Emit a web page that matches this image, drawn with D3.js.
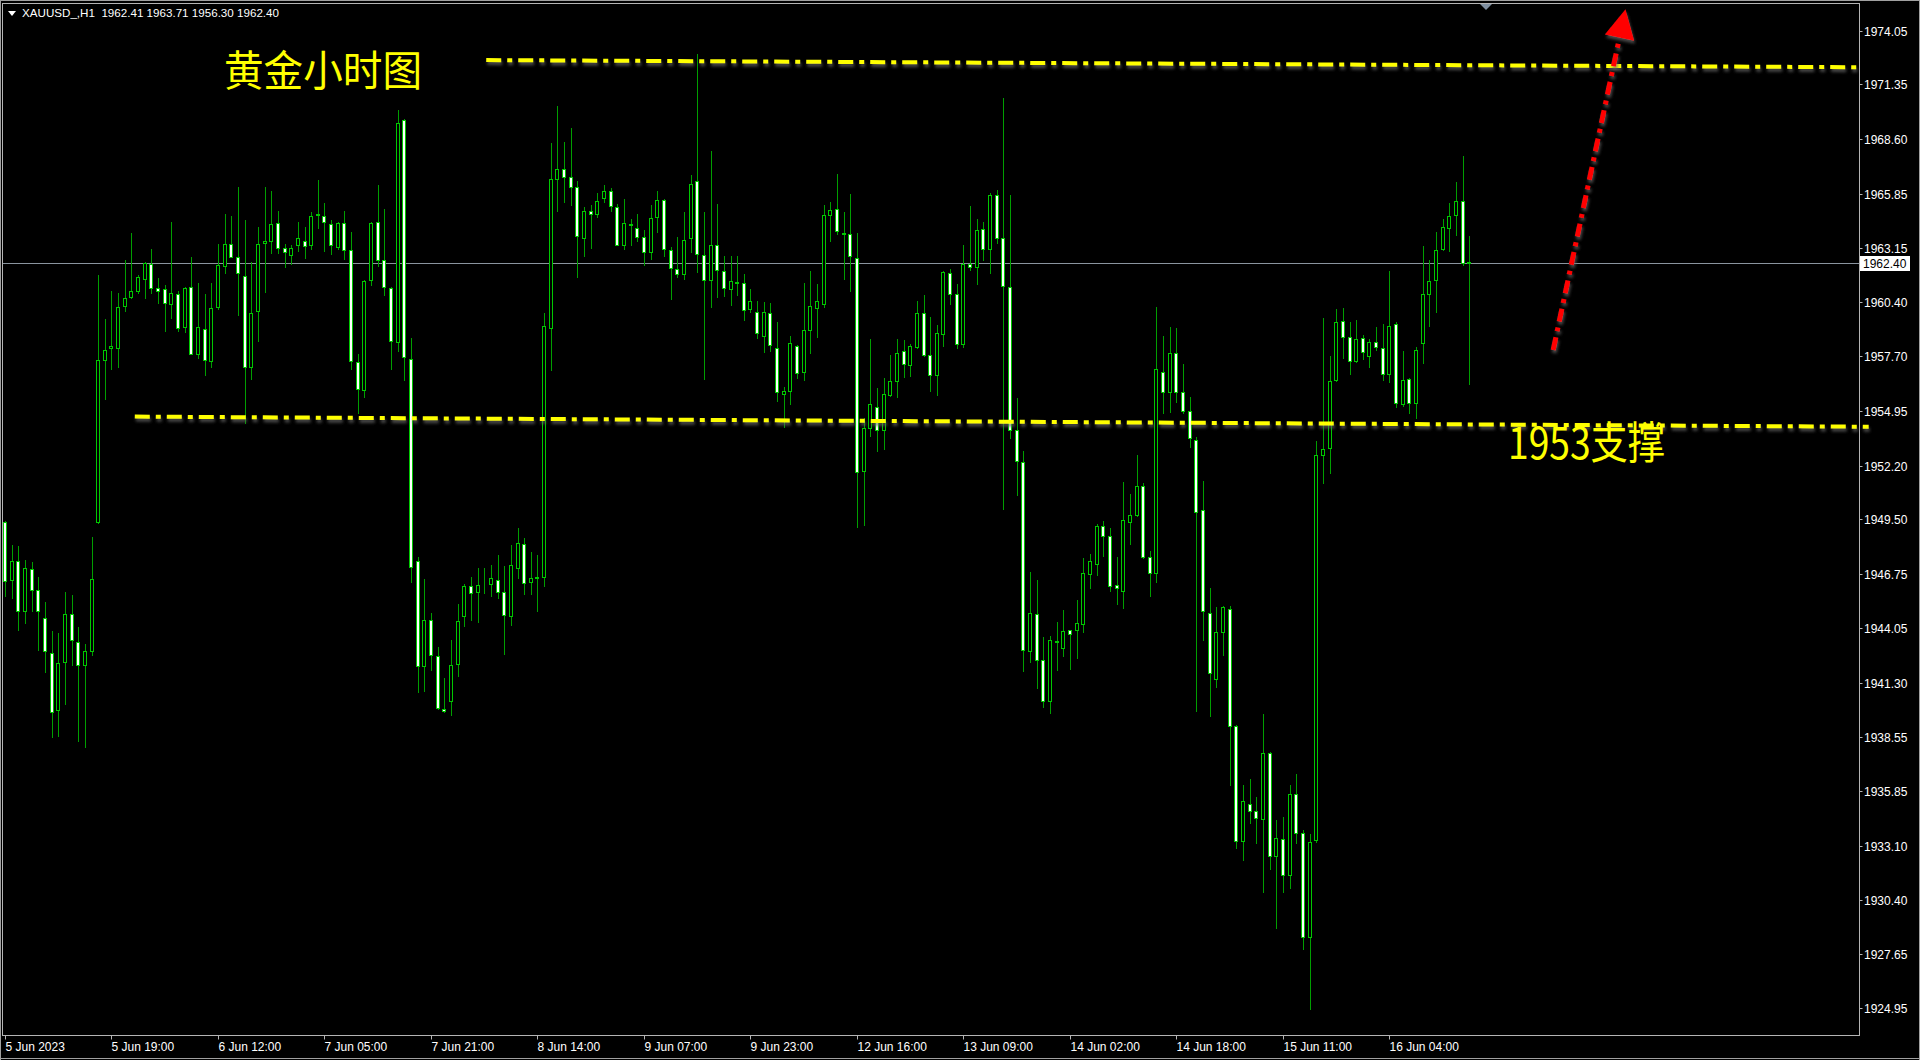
<!DOCTYPE html>
<html><head><meta charset="utf-8">
<script src="https://cdn.jsdelivr.net/npm/d3@7"></script>
<style>html,body{margin:0;padding:0;background:#000;overflow:hidden}svg{display:block}</style>
</head><body>
<svg id="chart" width="1920" height="1060"></svg>
<script>
const open = [1949.37,1946.46,1947.43,1944.87,1946.98,1945.95,1944.56,1942.76,1939.94,1942.34,1944.73,1943.36,1942.19,1942.89,1949.37,1957.49,1958.10,1958.12,1960.23,1960.65,1960.97,1961.56,1962.34,1961.14,1961.08,1960.30,1960.82,1959.18,1961.18,1957.81,1959.07,1957.45,1960.19,1962.24,1963.35,1962.66,1961.71,1957.13,1959.96,1963.40,1963.50,1964.39,1963.12,1962.76,1963.29,1963.50,1963.29,1964.78,1964.73,1964.35,1963.19,1964.39,1963.04,1957.38,1956.01,1961.50,1964.45,1962.55,1961.14,1958.40,1969.54,1957.55,1947.41,1942.14,1944.42,1942.62,1939.99,1940.35,1942.24,1944.63,1946.15,1945.83,1946.20,1946.25,1946.46,1945.87,1944.63,1947.03,1948.26,1946.36,1946.61,1946.61,1959.12,1966.57,1967.10,1966.72,1966.19,1963.62,1964.97,1964.86,1965.66,1965.98,1965.18,1963.28,1964.28,1964.14,1963.66,1962.92,1964.67,1965.52,1963.03,1962.08,1961.82,1963.62,1966.51,1962.77,1961.51,1963.28,1961.97,1961.09,1961.38,1961.38,1960.07,1959.92,1958.70,1959.86,1958.13,1955.81,1955.96,1958.22,1956.91,1959.02,1960.12,1960.34,1964.77,1965.10,1963.85,1963.81,1962.65,1951.95,1954.07,1955.13,1953.98,1955.75,1956.46,1957.93,1957.25,1958.16,1959.86,1957.73,1956.77,1958.83,1961.88,1960.80,1958.31,1962.34,1962.15,1964.10,1963.08,1965.77,1963.62,1961.19,1953.98,1952.38,1942.89,1944.72,1942.41,1940.38,1943.35,1943.02,1943.93,1943.93,1944.23,1946.76,1947.26,1949.16,1948.66,1946.20,1945.88,1949.36,1949.70,1951.16,1947.63,1946.81,1956.88,1955.89,1957.83,1955.87,1954.95,1953.49,1949.95,1944.80,1941.48,1943.86,1945.00,1939.12,1933.34,1935.19,1934.83,1934.43,1937.77,1932.57,1933.42,1931.63,1935.70,1933.72,1928.51,1933.38,1952.75,1953.09,1956.50,1959.46,1958.66,1957.47,1958.61,1957.71,1958.41,1958.12,1956.79,1959.29,1955.28,1956.54,1955.33,1958.37,1960.84,1961.52,1963.10,1964.15,1964.80,1965.48,1962.41];
const high = [1949.40,1948.21,1948.17,1947.47,1947.36,1946.58,1945.36,1943.88,1943.78,1945.84,1945.72,1944.09,1943.25,1948.63,1961.75,1959.54,1960.97,1960.86,1962.55,1963.86,1961.75,1962.45,1963.08,1961.60,1961.29,1964.41,1960.97,1961.18,1962.66,1961.35,1960.80,1961.35,1963.35,1964.83,1964.73,1966.18,1964.56,1962.45,1964.20,1966.20,1965.97,1964.98,1963.35,1963.29,1964.41,1964.20,1964.92,1966.56,1965.40,1964.52,1964.41,1964.98,1963.92,1957.81,1961.54,1964.45,1966.29,1965.08,1961.18,1970.04,1969.60,1958.62,1947.62,1946.51,1944.78,1943.09,1941.55,1943.45,1945.26,1946.25,1946.61,1947.03,1947.03,1947.20,1947.73,1947.14,1948.19,1949.06,1948.57,1947.84,1947.73,1959.86,1968.41,1970.24,1968.47,1969.14,1966.51,1965.18,1965.30,1965.87,1966.30,1966.13,1965.35,1965.60,1964.61,1964.82,1964.04,1965.30,1965.98,1965.60,1963.19,1963.70,1964.92,1966.82,1972.88,1964.92,1967.98,1965.35,1962.71,1962.71,1962.71,1961.80,1961.06,1960.49,1960.43,1960.39,1959.40,1956.17,1958.70,1958.28,1961.38,1961.97,1961.30,1965.29,1965.43,1966.83,1964.95,1965.83,1963.88,1954.59,1958.55,1956.08,1956.58,1957.77,1958.58,1958.49,1958.29,1960.47,1960.76,1959.66,1959.28,1961.96,1962.07,1961.34,1963.27,1965.25,1964.58,1964.43,1965.87,1966.06,1970.67,1965.77,1955.60,1952.95,1946.84,1946.46,1943.59,1943.62,1944.33,1944.96,1943.95,1945.46,1947.55,1947.77,1949.25,1949.40,1949.06,1947.63,1951.38,1950.79,1952.73,1951.30,1947.93,1960.18,1958.73,1959.17,1959.09,1957.32,1955.64,1953.62,1951.40,1946.05,1945.08,1945.14,1945.14,1939.18,1936.14,1936.46,1935.53,1939.72,1937.80,1934.39,1934.53,1936.14,1936.70,1933.88,1933.68,1953.42,1959.63,1957.69,1960.07,1960.12,1959.39,1959.53,1958.78,1958.54,1959.17,1959.29,1961.96,1959.39,1957.93,1956.59,1958.17,1963.22,1962.54,1963.91,1964.61,1965.41,1966.43,1967.77,1963.71];
const low = [1945.67,1945.57,1943.95,1944.30,1944.87,1942.93,1941.84,1938.54,1938.61,1940.23,1942.19,1938.35,1938.08,1942.68,1949.30,1955.53,1957.07,1957.17,1959.98,1960.60,1960.86,1960.61,1960.86,1960.38,1958.97,1959.60,1958.97,1958.92,1957.78,1957.60,1956.75,1957.17,1960.06,1961.88,1962.66,1959.77,1954.32,1956.54,1958.48,1960.93,1962.87,1962.87,1962.17,1962.34,1962.97,1962.62,1963.08,1964.14,1962.97,1962.83,1963.08,1962.60,1957.07,1954.85,1955.63,1961.29,1962.24,1960.76,1957.07,1957.95,1956.48,1946.35,1940.80,1940.87,1941.93,1939.98,1939.80,1939.65,1941.61,1944.14,1944.42,1944.36,1945.79,1945.66,1945.56,1942.73,1944.21,1946.57,1945.73,1945.73,1944.88,1946.15,1957.01,1964.99,1965.45,1965.30,1961.65,1962.71,1963.13,1964.71,1965.45,1964.99,1963.28,1963.09,1963.28,1963.49,1962.29,1962.56,1963.93,1962.71,1960.56,1961.65,1961.59,1962.92,1961.93,1956.53,1960.18,1960.66,1960.71,1960.28,1960.77,1959.50,1959.92,1958.60,1957.90,1957.96,1955.43,1954.16,1955.28,1956.59,1956.49,1957.86,1958.66,1960.15,1963.46,1963.85,1961.59,1960.96,1949.10,1949.19,1953.67,1952.92,1953.05,1955.70,1955.62,1956.66,1956.68,1958.12,1957.68,1955.94,1955.75,1958.22,1960.32,1958.10,1958.16,1962.02,1961.34,1962.54,1961.88,1963.40,1950.00,1953.59,1950.74,1941.87,1942.31,1941.04,1940.09,1939.76,1941.93,1942.64,1942.00,1942.55,1943.86,1946.05,1946.72,1947.68,1945.92,1945.24,1945.04,1948.27,1949.65,1947.55,1945.63,1946.34,1954.83,1954.88,1955.39,1954.83,1953.15,1939.86,1943.45,1939.60,1941.10,1942.70,1936.16,1932.98,1932.37,1934.25,1933.24,1930.76,1931.93,1928.99,1930.76,1931.00,1933.24,1927.90,1924.92,1933.30,1951.32,1951.85,1956.45,1957.59,1956.79,1957.39,1957.56,1957.15,1958.00,1956.50,1956.42,1955.16,1955.21,1954.84,1954.60,1957.35,1959.22,1959.90,1963.05,1962.98,1963.78,1962.25,1956.30];
const close = [1946.41,1947.43,1944.90,1947.05,1945.95,1944.87,1942.87,1939.83,1942.30,1944.73,1943.42,1942.19,1942.89,1946.52,1957.49,1958.02,1958.20,1960.19,1960.61,1960.97,1961.67,1962.38,1961.14,1960.97,1960.38,1960.86,1959.11,1961.14,1957.81,1959.18,1957.49,1960.13,1962.28,1963.35,1962.70,1961.86,1957.13,1959.87,1963.35,1963.50,1964.35,1963.14,1962.91,1963.14,1963.61,1963.25,1964.73,1964.82,1964.41,1963.29,1964.39,1963.04,1957.45,1956.05,1961.46,1964.39,1962.55,1961.18,1958.44,1969.41,1957.65,1947.11,1942.14,1944.42,1942.67,1940.03,1939.86,1942.20,1944.40,1946.15,1945.79,1946.19,1946.22,1946.53,1945.87,1944.67,1947.20,1948.30,1946.32,1946.57,1946.53,1959.23,1966.61,1967.10,1966.72,1966.19,1963.72,1964.99,1964.82,1965.49,1965.98,1965.24,1963.30,1964.40,1964.34,1963.70,1962.92,1964.65,1965.52,1963.09,1962.14,1961.82,1963.55,1966.36,1962.82,1961.51,1963.28,1962.04,1961.13,1961.49,1961.42,1960.03,1960.45,1958.85,1959.92,1958.28,1955.89,1955.96,1958.34,1956.87,1959.02,1960.24,1960.49,1964.77,1965.06,1963.98,1963.88,1962.73,1951.89,1954.07,1955.27,1954.01,1955.81,1956.46,1957.83,1957.29,1958.20,1959.84,1957.73,1956.77,1958.87,1961.92,1960.80,1958.31,1962.34,1962.15,1964.04,1963.08,1965.77,1963.65,1961.21,1953.98,1952.43,1942.93,1944.80,1942.45,1940.38,1943.42,1943.38,1943.90,1943.76,1944.27,1946.79,1947.43,1949.15,1948.66,1946.13,1946.05,1949.45,1949.70,1951.16,1947.60,1946.81,1957.05,1955.92,1957.83,1955.87,1954.95,1953.57,1949.87,1944.90,1941.78,1943.86,1945.10,1939.12,1933.34,1935.33,1934.83,1934.49,1937.77,1932.57,1933.48,1931.63,1935.70,1933.74,1928.51,1933.28,1952.71,1953.01,1956.47,1959.39,1958.66,1957.47,1958.56,1957.88,1958.41,1958.17,1956.79,1959.22,1955.33,1956.50,1955.33,1958.00,1960.80,1961.48,1963.03,1964.20,1964.73,1965.48,1962.37,1962.40];

const priceTicks = [1974.05,1971.35,1968.60,1965.85,1963.15,1960.40,1957.70,1954.95,1952.20,1949.50,1946.75,1944.05,1941.30,1938.55,1935.85,1933.10,1930.40,1927.65,1924.95];
const timeLabels = ["5 Jun 2023","5 Jun 19:00","6 Jun 12:00","7 Jun 05:00","7 Jun 21:00","8 Jun 14:00","9 Jun 07:00","9 Jun 23:00","12 Jun 16:00","13 Jun 09:00","14 Jun 02:00","14 Jun 18:00","15 Jun 11:00","16 Jun 04:00"];
const barsPerLabel = 16;
const headerText = "XAUUSD_,H1  1962.41 1963.71 1956.30 1962.40";
const lastPrice = 1962.40;
const lastPriceLabel = "1962.40";
// annotations in (bar index, price)
const resistanceLine = [[72.3, 1972.57], [278.5, 1972.21]];
const supportLine = [[19.5, 1954.66], [280.0, 1954.15]];
const arrowLine = [[232.6, 1958.01], [242.5, 1973.6]];
const titleText = "黄金小时图";
const supportText = "1953支撑";

const W = 1920, H = 1060;
const plot = {left: 2.5, top: 3.5, right: 1859.5, bottom: 1035.5};
const svg = d3.select("#chart");
svg.append("rect").attr("width", W).attr("height", H).attr("fill", "#000");

const x = d3.scaleLinear().domain([0, 220]).range([5, 5 + 6.656 * 220]);
const y = d3.scaleLinear().domain([1924.95, 1974.05]).range([1008, 30.6]);

const defs = svg.append("defs");
const f = defs.append("filter").attr("id", "shadow").attr("x", "-20%").attr("y", "-50%").attr("width", "140%").attr("height", "300%");
f.append("feDropShadow").attr("dx", 1).attr("dy", 3).attr("stdDeviation", 1.5).attr("flood-color", "#666").attr("flood-opacity", 0.7);
const clip = defs.append("clipPath").attr("id", "plotclip");
clip.append("rect").attr("x", plot.left).attr("y", plot.top).attr("width", plot.right - plot.left).attr("height", plot.bottom - plot.top);

// current price line
svg.append("line").attr("x1", plot.left).attr("x2", plot.right)
  .attr("y1", Math.round(y(lastPrice)) + 0.5).attr("y2", Math.round(y(lastPrice)) + 0.5)
  .attr("stroke", "#8a949e").attr("stroke-width", 1);

// candles
const bars = d3.range(open.length).map(i => ({i, o: open[i], h: high[i], l: low[i], c: close[i]}));
const g = svg.append("g").attr("clip-path", "url(#plotclip)");
const cx = d => Math.round(x(d.i));
g.selectAll("line.wick").data(bars).join("line").attr("class", "wick")
  .attr("x1", d => cx(d) + 0.5).attr("x2", d => cx(d) + 0.5)
  .attr("y1", d => Math.round(y(d.h))).attr("y2", d => Math.round(y(d.l)) + 1)
  .attr("stroke", "#009e00").attr("stroke-width", 1);
g.selectAll("rect.body").data(bars).join("rect").attr("class", "body")
  .attr("x", d => cx(d) - 1.5)
  .attr("y", d => Math.round(y(Math.max(d.o, d.c))) + 0.5)
  .attr("width", 3)
  .attr("height", d => Math.max(0, Math.round(y(Math.min(d.o, d.c))) - Math.round(y(Math.max(d.o, d.c)))))
  .attr("fill", d => d.c >= d.o ? "#000" : "#fff")
  .attr("stroke", "#00c800").attr("stroke-width", 1);

// plot frame and window border
svg.append("rect").attr("x", plot.left).attr("y", plot.top).attr("width", plot.right - plot.left).attr("height", plot.bottom - plot.top)
  .attr("fill", "none").attr("stroke", "#b4b4b4").attr("stroke-width", 1);
svg.append("line").attr("x1", 0).attr("x2", W).attr("y1", 1058.5).attr("y2", 1058.5).attr("stroke", "#a0a0a0");
svg.append("line").attr("x1", 0.5).attr("x2", 0.5).attr("y1", 0).attr("y2", H).attr("stroke", "#a0a0a0");
svg.append("line").attr("x1", 1919.5).attr("x2", 1919.5).attr("y1", 0).attr("y2", H).attr("stroke", "#a0a0a0");
svg.append("line").attr("x1", 0).attr("x2", W).attr("y1", 0.5).attr("y2", 0.5).attr("stroke", "#a0a0a0");

// right price axis
const yAxis = svg.append("g");
priceTicks.forEach(p => {
  const yy = Math.round(y(p)) + 0.5;
  yAxis.append("line").attr("x1", plot.right).attr("x2", plot.right + 3).attr("y1", yy).attr("y2", yy).attr("stroke", "#b4b4b4");
  yAxis.append("text").attr("x", 1864).attr("y", yy + 4).text(p.toFixed(2))
    .attr("fill", "#fff").attr("font-family", "Liberation Sans, Arial, sans-serif").attr("font-size", 12);
});
// last price label
const ly = Math.round(y(lastPrice));
svg.append("rect").attr("x", 1860).attr("y", ly - 7).attr("width", 50).attr("height", 15).attr("fill", "#fff");
svg.append("text").attr("x", 1863).attr("y", ly + 5).text(lastPriceLabel).attr("fill", "#000")
  .attr("font-family", "Liberation Sans, Arial, sans-serif").attr("font-size", 12);

// bottom time axis
timeLabels.forEach((t, k) => {
  const xx = Math.round(x(k * barsPerLabel)) + 0.5;
  svg.append("line").attr("x1", xx).attr("x2", xx).attr("y1", plot.bottom).attr("y2", plot.bottom + 4).attr("stroke", "#b4b4b4");
  svg.append("text").attr("x", xx).attr("y", 1051).text(t).attr("fill", "#fff")
    .attr("font-family", "Liberation Sans, Arial, sans-serif").attr("font-size", 12);
});

// header
svg.append("path").attr("d", "M8,11 L16,11 L12,16 Z").attr("fill", "#fff");
svg.append("text").attr("x", 22).attr("y", 17).text(headerText).attr("fill", "#fff")
  .attr("font-family", "Liberation Sans, Arial, sans-serif").attr("font-size", 11.5)
  .attr("textLength", 257).attr("lengthAdjust", "spacingAndGlyphs").style("white-space", "pre");
// shift marker
svg.append("path").attr("d", "M1480,4 L1492,4 L1486,10 Z").attr("fill", "#7f8fa0");

// annotation lines
const toPx = p => [x(p[0]), y(p[1])];
function dashLine(pts, color, width, dash) {
  const a = toPx(pts[0]), b = toPx(pts[1]);
  svg.append("line").attr("x1", a[0]).attr("y1", a[1]).attr("x2", b[0]).attr("y2", b[1])
    .attr("stroke", color).attr("stroke-width", width).attr("stroke-dasharray", dash).attr("filter", "url(#shadow)");
}
dashLine(resistanceLine, "#ffff00", 4, "15,6,5,6");
dashLine(supportLine, "#ffff00", 4, "15,6,5,6");
dashLine(arrowLine, "#ff0000", 5, "13,6,4,6");
// arrow head
{
  const a = toPx(arrowLine[0]), b = toPx(arrowLine[1]);
  const dx = b[0] - a[0], dy = b[1] - a[1], len = Math.hypot(dx, dy);
  const ux = dx / len, uy = dy / len, px = -uy, py = ux;
  const base = [b[0] + ux * 2, b[1] + uy * 2];
  const tip = [base[0] + ux * 29, base[1] + uy * 29];
  const hw = 15;
  svg.append("path").attr("d", `M${tip[0]},${tip[1]} L${base[0] + px * hw},${base[1] + py * hw} L${base[0] - px * hw},${base[1] - py * hw} Z`)
    .attr("fill", "#ff0000").attr("filter", "url(#shadow)");
}

// texts
svg.append("text").attr("x", 224).attr("y", 86).text(titleText).attr("fill", "#ffff00")
  .attr("font-family", "Noto Sans CJK SC, sans-serif").attr("font-size", 42)
  .attr("textLength", 198).attr("lengthAdjust", "spacingAndGlyphs");
svg.append("text").attr("x", 1508).attr("y", 459).text(supportText).attr("fill", "#ffff00")
  .attr("font-family", "Noto Sans CJK SC, sans-serif").attr("font-size", 44)
  .attr("textLength", 157).attr("lengthAdjust", "spacingAndGlyphs");
</script>
</body></html>
